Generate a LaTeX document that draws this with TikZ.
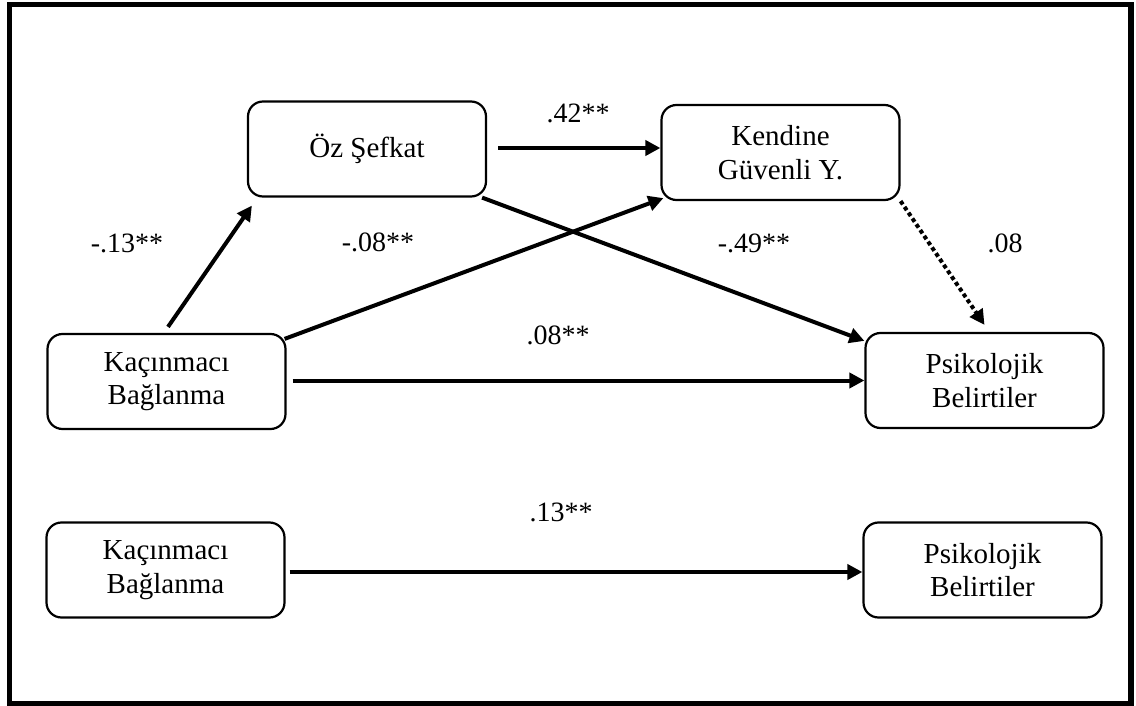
\documentclass[tikz,border=0pt]{standalone}
\usepackage{fontspec}
\setmainfont{Liberation Serif}
\usetikzlibrary{arrows.meta,calc}

\begin{document}
\begin{tikzpicture}[x=1pt,y=-1pt,
  varbox/.style={draw,line width=2.2pt,rounded corners=15pt,
    minimum width=238pt,minimum height=95pt,inner sep=0pt,align=center,
    font=\fontsize{29}{33.5}\selectfont},
  pathline/.style={line width=4pt,-{Triangle[length=15pt,width=15pt]}},
  dotpath/.style={pathline,dash pattern=on 4pt off 3pt},
  coef/.style={inner sep=0pt,font=\fontsize{28}{32}\selectfont}]

\useasboundingbox (0,0) rectangle (1136,706);
% outer frame
\draw[line width=5.5pt] (9.5,4.5) rectangle (1131,703.5);

% mediation model
\node[varbox] (oz)  at (367,149)     {Öz Şefkat};
\node[varbox] (kg)  at (780.5,152.5) {Kendine\\Güvenli Y.};
\node[varbox] (ka1) at (166.5,381.5) {Kaçınmacı\\Bağlanma};
\node[varbox] (pb1) at (984.5,380.5) {Psikolojik\\Belirtiler};

% total effect model
\node[varbox] (ka2) at (165.5,570) {Kaçınmacı\\Bağlanma};
\node[varbox] (pb2) at (982.5,570) {Psikolojik\\Belirtiler};

% paths
\draw[pathline] ($(ka1.north)+(1.5,-6)$) -- ($(oz.south west)+(5,8)$);
\draw[pathline] ($(ka1.north east)+(-2,6)$) -- ($(kg.south west)+(3,-3)$);
\draw[pathline] ($(oz.south east)+(-5,0)$) -- ($(pb1.north west)+(0,9)$);
\draw[dotpath] (kg.south east) -- ($(pb1.north)+(0,-7)$);
\draw[pathline,shorten <=6pt] (pb1.west -| ka1.east) -- (pb1.west);
\draw[pathline,shorten <=11pt] ($(oz.east)+(0,-1)$) -- ($(kg.west |- oz.east)+(0,-1)$);
\draw[pathline] ($(ka2.east)+(4,2)$) -- ($(pb2.west)+(0,2)$);

% coefficients
\node[coef] (c42) at (578,113) {.42**};
\node[coef] (c13) at (127,243) {-.13**};
\node[coef] (c08a) at (378,242) {-.08**};
\node[coef] (c08b) at (558,335) {.08**};
\node[coef] (c49) at (754,243) {-.49**};
\node[coef] (c08c) at (1005,243) {.08};
\node[coef] (c13b) at (561,512) {.13**};
\end{tikzpicture}
\end{document}
